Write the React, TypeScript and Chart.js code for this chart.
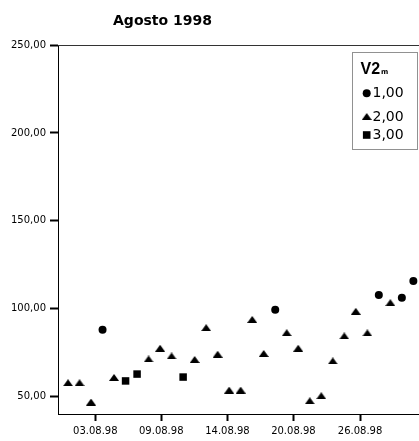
import React, { useEffect, useRef } from 'react';
import { Chart, registerables } from 'chart.js';

Chart.register(...registerables);

// ---- data ----
const days = [1, 2, 3, 4, 5, 6, 7, 8, 9, 10, 11, 12, 13, 14, 15, 16, 17, 18, 19, 20, 21, 22, 23, 24, 25, 26, 27, 28, 29, 30, 31];
const values = [58, 58, 47, 88.1, 61, 59, 62.9, 71.5, 77.6, 73.2, 61.2, 71.2, 89.3, 74.2, 53.8, 53.8, 94, 74.6, 99.5, 86.4, 77.6, 47.7, 50.6, 70.4, 84.6, 98.6, 86.3, 107.8, 103.5, 106.3, 115.8];
const groups = [2, 2, 2, 1, 2, 3, 3, 2, 2, 2, 3, 2, 2, 2, 2, 2, 2, 2, 1, 2, 2, 2, 2, 2, 2, 2, 2, 1, 2, 1, 1];
const groupIds = [1, 2, 3];
const groupLabels = ['1,00', '2,00', '3,00'];
const legendTitle = 'V2';
const legendSub = 'm';
const chartTitle = 'Agosto 1998';
const xTickValues = [3.37, 9.1, 14.85, 20.58, 26.37];
const yTickValues = [50, 100, 150, 200, 250];
const xMin = 0.13;
const xMax = 31.49;
const yMin = 40.2;
const yMax = 250;

const FONT = 'DejaVu Sans';

function makeTriangle(w: number, h: number) {
  const c = document.createElement('canvas');
  c.width = w;
  c.height = h;
  const g = c.getContext('2d')!;
  g.fillStyle = '#000';
  g.beginPath();
  g.moveTo(w / 2, 0);
  g.lineTo(w, h);
  g.lineTo(0, h);
  g.closePath();
  g.fill();
  return c;
}

export default function App() {
  const ref = useRef<HTMLCanvasElement | null>(null);

  useEffect(() => {
    if (!ref.current) return;
    const tri = makeTriangle(10, 7);
    const styles: any[] = ['circle', tri, 'rect'];
    const radii = [4, 5, 5.3];

    const datasets = groupIds.map((g, gi) => ({
      label: groupLabels[gi],
      data: days
        .map((d, i) => ({ x: d, y: values[i], g: groups[i] }))
        .filter((p) => p.g === g)
        .map((p) => ({ x: p.x, y: p.y })),
      pointStyle: styles[gi],
      pointRadius: radii[gi],
      pointBackgroundColor: '#000',
      pointBorderColor: '#000',
      pointBorderWidth: 0,
      showLine: false,
    }));

    const decor = {
      id: 'decor',
      afterDraw(chart: any) {
        const ctx = chart.ctx;
        const a = chart.chartArea;
        ctx.save();
        // title
        ctx.fillStyle = '#000';
        ctx.font = `bold 14px "${FONT}"`;
        ctx.textAlign = 'center';
        ctx.textBaseline = 'alphabetic';
        ctx.fillText(chartTitle, 162.5, 25);
        // top frame line
        ctx.strokeStyle = '#333';
        ctx.lineWidth = 1;
        ctx.beginPath();
        ctx.moveTo(a.left, Math.round(a.top) + 0.5);
        ctx.lineTo(a.right, Math.round(a.top) + 0.5);
        ctx.stroke();
        // legend box
        const bx = 352.5, by = 52.5, bw = 65, bh = 97;
        ctx.fillStyle = '#fff';
        ctx.fillRect(bx, by, bw, bh);
        ctx.setLineDash([1, 1]);
        ctx.strokeStyle = '#222';
        ctx.strokeRect(bx, by, bw, bh);
        ctx.setLineDash([]);
        ctx.fillStyle = '#000';
        ctx.textAlign = 'left';
        ctx.font = `bold 16px "Liberation Sans"`;
        ctx.fillText(legendTitle, 360.5, 73.5);
        const tw = ctx.measureText(legendTitle).width;
        ctx.font = `bold 7px "${FONT}"`;
        ctx.fillText(legendSub, 360.5 + tw + 1, 73.5);
        const rowsY = [93.3, 116.5, 135];
        const mx = 366.7;
        rowsY.forEach((y, i) => {
          ctx.fillStyle = '#000';
          if (i === 0) {
            ctx.beginPath();
            ctx.arc(mx, y, 4, 0, Math.PI * 2);
            ctx.fill();
          } else if (i === 1) {
            ctx.drawImage(tri, mx - 5, y - 3.5);
          } else {
            ctx.fillRect(mx - 3.8, y - 3.8, 7.6, 7.6);
          }
          ctx.font = `14px "${FONT}"`;
          ctx.textBaseline = 'middle';
          ctx.fillText(groupLabels[i], 372.5, y + 0.5);
          ctx.textBaseline = 'alphabetic';
        });
        ctx.restore();
      },
    };

    const fmt = (v: number) => v.toFixed(2).replace('.', ',');
    const dateLabel = (v: number) => String(Math.floor(v)).padStart(2, '0') + '.08.98';

    const chart = new Chart(ref.current, {
      type: 'scatter',
      data: { datasets: datasets as any },
      options: {
        animation: false,
        responsive: false,
        devicePixelRatio: 1,
        layout: { autoPadding: false, padding: { top: 45, left: 0, right: 0, bottom: 0 } },
        plugins: {
          legend: { display: false },
          tooltip: { enabled: false },
          title: { display: false },
        },
        scales: {
          x: {
            type: 'linear',
            min: xMin,
            max: xMax,
            afterBuildTicks: (s: any) => {
              s.ticks = xTickValues.map((v) => ({ value: v }));
            },
            afterFit: (s: any) => {
              s.height = 27;
            },
            grid: {
              drawOnChartArea: false,
              drawTicks: true,
              tickLength: 7,
              tickWidth: 2,
              tickColor: '#000',
            },
            border: { display: true, color: '#000', width: 1 },
            ticks: {
              font: { family: FONT, size: 10 },
              color: '#000',
              padding: 4,
              maxRotation: 0,
              autoSkip: false,
              callback: (v: any) => dateLabel(Number(v)),
            },
          },
          y: {
            type: 'linear',
            min: yMin,
            max: yMax,
            afterBuildTicks: (s: any) => {
              s.ticks = yTickValues.map((v) => ({ value: v }));
            },
            afterFit: (s: any) => {
              s.width = 58;
            },
            grid: {
              drawOnChartArea: false,
              drawTicks: true,
              tickLength: 8,
              tickWidth: 2,
              tickColor: '#000',
            },
            border: { display: true, color: '#000', width: 1 },
            ticks: {
              font: { family: FONT, size: 10 },
              color: '#000',
              padding: 4,
              autoSkip: false,
              callback: (v: any) => fmt(Number(v)),
            },
          },
        },
      },
      plugins: [decor],
    });
    return () => chart.destroy();
  }, []);

  return (
    <div style={{ position: 'fixed', left: 0, top: 0, width: 419, height: 441, background: '#fff' }}>
      <canvas ref={ref} width={419} height={441} style={{ display: 'block', width: 419, height: 441 }} />
    </div>
  );
}
